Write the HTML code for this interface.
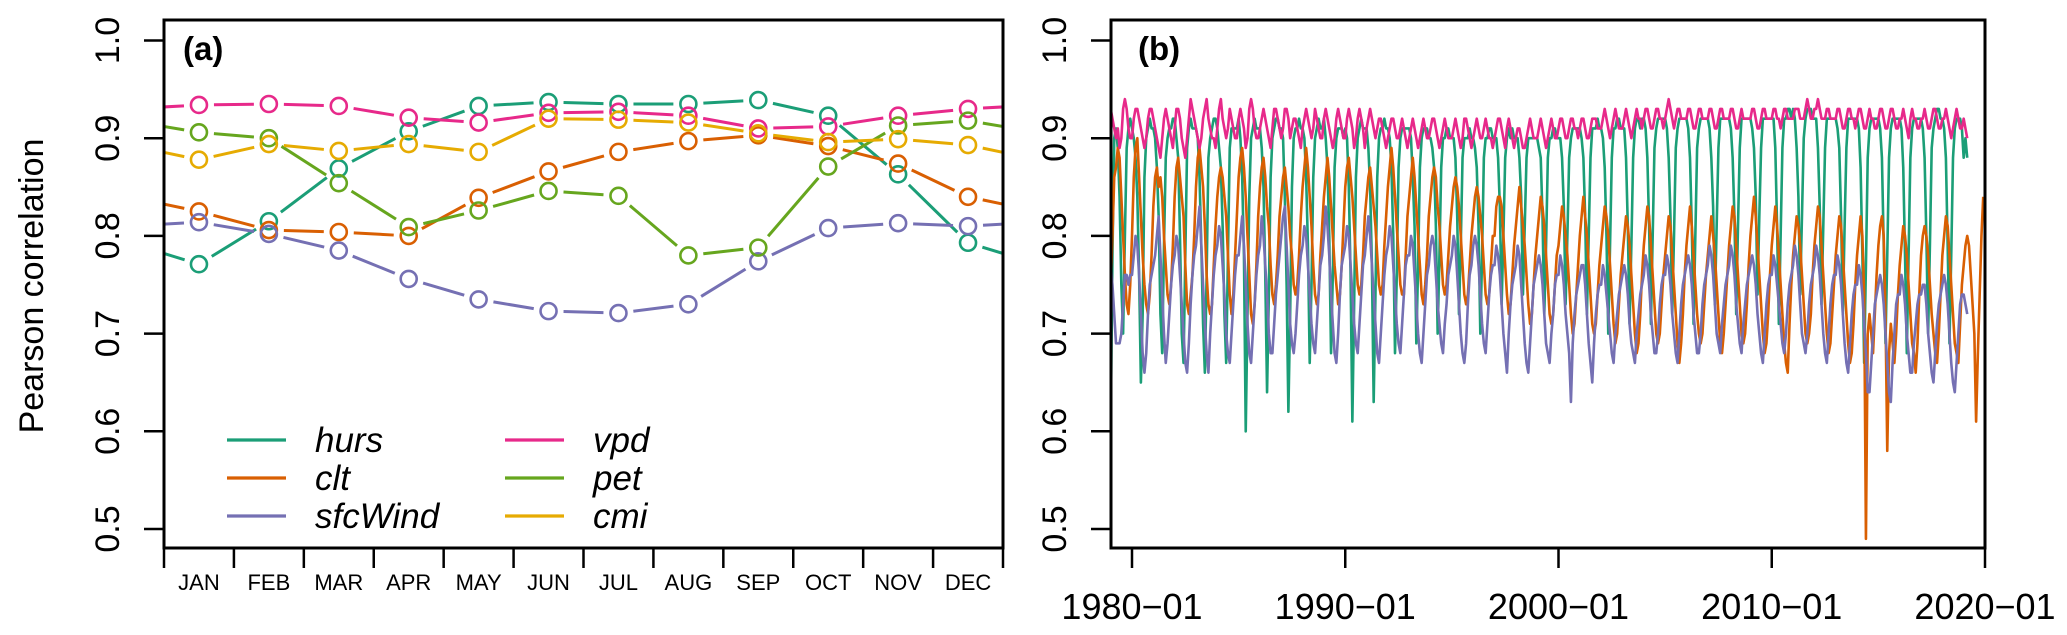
<!DOCTYPE html>
<html><head><meta charset="utf-8"><style>
html,body{margin:0;padding:0;background:#fff;}
svg{display:block;font-family:"Liberation Sans",sans-serif;}
</style></head><body>
<svg id="chart" width="2067" height="635" viewBox="0 0 2067 635" xmlns="http://www.w3.org/2000/svg">
<defs>
<clipPath id="clipA"><rect x="164" y="20" width="839" height="528"/></clipPath>
<clipPath id="clipB"><rect x="1111" y="20" width="874" height="528"/></clipPath>
</defs>
<g id="panelA"></g>
<g id="panelB"></g>
</svg>
<script>
// ---------- Panel (a) data ----------
const months = ["JAN","FEB","MAR","APR","MAY","JUN","JUL","AUG","SEP","OCT","NOV","DEC"];
const hursA = [0.771,0.815,0.869,0.907,0.933,0.937,0.935,0.935,0.939,0.923,0.863,0.793];
const cltA = [0.825,0.806,0.804,0.800,0.839,0.866,0.886,0.897,0.903,0.892,0.874,0.840];
const sfcWindA = [0.814,0.802,0.785,0.756,0.735,0.723,0.721,0.730,0.774,0.808,0.813,0.810];
const vpdA = [0.934,0.935,0.933,0.921,0.916,0.926,0.927,0.923,0.910,0.912,0.923,0.930];
const petA = [0.906,0.900,0.854,0.809,0.826,0.846,0.841,0.780,0.788,0.871,0.913,0.918];
const cmiA = [0.878,0.894,0.887,0.894,0.886,0.920,0.919,0.916,0.905,0.896,0.899,0.893];
const yTicks = [0.5,0.6,0.7,0.8,0.9,1.0];
const yTickLabels = ["0.5","0.6","0.7","0.8","0.9","1.0"];

// ---------- Panel (b) data (monthly, from 1979-01, values in hundredths) ----------
const startYear = 1979;
const xTickYears = [1980,1990,2000,2010,2020];
const xTickLabels = ["1980\u221201","1990\u221201","2000\u221201","2010\u221201","2020\u221201"];
const hursB = [
"60 78 90 91 89 84 75 70 80 89 91 92","91 90 88 84 76 65 72 86 90 91 92 91","91 90 87 82 72 68 79 88 90 91 91 92",
"92 90 88 80 70 67 78 89 91 92 91 91","91 90 86 79 71 66 76 88 90 91 92 92","91 89 87 81 72 67 78 89 91 91 91 91",
"92 90 86 78 60 72 84 90 91 92 91 91","91 89 85 76 64 74 86 90 91 92 92 91","91 90 84 75 62 72 85 90 91 91 92 91",
"91 90 86 79 67 75 86 90 91 92 91 91","92 90 87 80 68 76 87 90 91 91 91 90","91 90 85 76 61 73 86 90 91 92 91 91",
"91 89 85 77 63 74 86 90 91 91 92 91","91 90 87 80 68 76 87 90 91 91 91 91","91 90 86 81 69 77 87 90 91 91 91 90",
"90 89 87 81 70 78 87 90 90 91 91 90","90 90 88 82 72 79 88 90 90 90 91 90","90 89 87 81 70 78 88 90 90 91 91 90",
"90 90 88 83 73 80 88 90 91 90 91 90","90 90 88 84 74 81 88 90 90 90 90 90","90 89 88 82 72 79 88 90 90 91 91 90",
"90 90 88 83 73 80 88 90 91 91 91 91","91 90 88 82 72 80 88 91 91 91 92 91","91 90 87 80 70 79 88 91 91 92 92 91",
"91 91 88 81 71 79 88 91 92 92 91 92","92 91 88 81 71 80 89 91 92 92 92 92","92 91 88 82 72 80 89 91 92 92 92 92",
"92 91 88 81 71 80 89 91 92 92 92 92","92 91 88 83 73 81 89 92 92 92 92 92","92 91 88 82 72 81 89 92 92 92 92 92",
"92 91 89 84 74 82 89 92 92 92 92 92","92 92 89 81 71 80 89 92 92 93 93 92","93 92 89 84 74 82 90 92 93 93 93 92",
"92 92 89 83 73 81 89 92 92 92 92 92","92 91 89 82 72 81 89 92 92 92 92 92","92 91 87 78 67 77 88 91 92 92 92 92",
"92 91 88 79 69 78 88 91 92 92 92 92","92 91 87 78 68 78 88 91 92 92 92 92","92 91 88 80 70 79 89 91 92 93 93 92",
"92 91 88 79 69 78 88 91 92 92 92 91","88 90 88"];
const cltB = [
"75 80 86 87 89 88 84 80 76 73 72 75","80 86 89 90 86 82 78 75 73 72 74 78","83 86 87 85 86 84 80 77 74 73 75 79",
"84 87 88 86 84 82 77 73 72 74 76 80","85 88 89 87 85 81 76 73 72 73 77 81","84 86 87 86 84 82 78 74 72 74 78 82",
"86 88 89 87 84 80 76 72 71 73 77 82","85 87 88 86 83 81 77 74 73 75 78 82","84 86 87 85 83 80 78 75 74 75 78 82",
"85 87 89 87 84 81 77 74 73 74 78 81","84 86 88 86 83 80 77 75 73 74 77 81","85 87 88 86 84 81 78 75 74 75 78 82",
"84 86 87 85 83 81 78 75 74 75 79 82","85 87 89 87 84 81 78 75 74 74 78 82","84 86 88 86 83 80 77 74 73 75 78 82",
"84 86 87 86 83 81 78 75 74 75 78 81","83 85 86 85 83 80 77 74 73 74 77 80","82 84 85 84 82 80 77 74 73 74 77 80",
"80 83 84 84 83 80 77 74 72 73 76 79","81 83 85 83 81 79 76 73 71 72 75 78","80 82 84 83 81 78 75 72 71 72 75 78",
"79 81 83 82 80 78 75 72 70 71 74 77","80 82 84 82 80 77 74 71 70 71 74 77","79 81 83 82 80 77 74 71 69 70 73 76",
"78 80 82 81 79 76 73 70 68 69 72 76","79 81 83 82 79 76 73 70 69 70 73 76","78 80 82 81 78 75 72 69 67 69 72 76",
"79 81 83 81 78 75 72 70 69 70 73 76","78 80 82 80 78 75 72 69 68 70 73 76","79 81 83 82 79 76 73 70 69 70 73 77",
"80 82 84 82 79 76 73 70 68 69 72 76","79 81 83 81 78 75 72 69 67 66 71 75","78 80 82 81 79 76 73 70 69 70 72 76",
"79 81 83 82 79 76 73 70 68 69 72 75","78 80 82 81 78 75 72 69 67 68 71 75","78 80 82 80 74 49 70 72 70 68 72 76",
"79 81 82 80 72 58 68 71 69 67 70 74","77 79 81 80 78 75 72 69 68 66 69 74","78 80 81 80 78 75 72 70 68 67 70 74",
"78 80 82 81 78 75 72 69 68 67 71 75","77 79 80 79 76 73 70 61 68 74 80 84"];
const sfcWindB = [
"77 75 72 69 69 69 70 73 76 76 75 76","76 78 80 79 76 72 68 66 68 72 75 76","77 78 80 82 78 74 70 67 69 72 75 77",
"78 80 79 76 73 70 67 66 69 73 76 78","79 81 83 79 75 71 68 66 70 73 76 78","79 81 80 77 74 70 68 67 70 73 76 78",
"78 80 82 79 75 71 68 67 70 73 76 78","79 82 80 77 74 70 68 68 71 74 76 78","80 82 83 79 75 71 69 68 70 73 76 78",
"79 81 80 77 74 71 69 68 71 74 77 78","80 83 81 78 74 71 68 67 70 74 77 78","79 81 80 77 74 71 69 68 71 74 77 78",
"80 82 80 77 74 71 68 67 70 73 76 78","79 81 80 77 74 71 69 68 71 74 77 78","78 80 79 76 73 70 68 67 70 73 76 77",
"79 80 79 76 73 71 69 68 71 73 76 77","78 80 79 76 73 70 68 67 69 73 76 77","79 80 79 77 74 71 69 68 71 74 76 77",
"77 79 78 76 73 70 68 66 70 73 75 76","77 79 78 75 72 69 67 66 69 72 75 76","77 78 77 75 72 69 68 67 70 72 75 76",
"76 78 77 75 72 70 68 63 69 72 74 75","76 77 77 75 72 69 67 65 69 72 74 75","75 77 76 74 72 70 68 67 70 72 74 75",
"76 77 76 74 71 69 68 67 70 72 74 75","76 78 77 75 72 70 68 68 70 73 75 76","76 78 77 75 72 70 68 67 70 73 75 76",
"77 78 77 75 72 70 68 68 70 73 75 76","77 79 78 76 73 70 69 68 71 73 75 76","77 79 78 76 73 71 69 68 71 73 75 76",
"77 78 77 75 72 70 68 67 70 73 75 76","76 78 77 75 73 71 69 68 70 73 75 76","77 79 78 76 73 70 69 68 70 73 75 76",
"77 79 78 76 73 70 68 67 70 73 75 76","76 78 77 75 72 69 67 66 69 72 74 75","75 77 76 74 71 68 64 64 67 70 73 74",
"75 76 75 73 70 67 64 63 67 70 73 74","74 76 75 73 70 68 66 66 69 71 73 74","74 75 75 73 70 68 66 65 68 71 73 74",
"75 76 75 73 70 67 65 64 67 70 73 74","74 73 72"];
const vpdB = [
"93 92 91 90 91 89 90 93 94 93 91 90","90 92 93 93 92 91 90 89 90 92 93 93","92 91 90 89 88 90 92 93 92 91 90 89",
"91 93 93 92 90 89 88 90 92 94 93 92","91 90 89 90 92 93 94 92 91 90 90 89","91 93 94 92 91 90 91 93 92 91 90 90",
"92 93 92 91 89 90 93 94 93 91 90 90","91 92 93 92 91 90 89 91 93 93 92 91","90 91 93 93 92 90 91 92 92 91 90 89",
"91 92 93 92 91 90 91 93 92 91 90 90","92 93 92 91 90 89 90 92 93 92 91 90","90 92 93 92 91 89 90 92 93 92 91 89",
"91 92 93 92 91 90 91 92 92 91 90 89","90 91 92 92 91 90 90 91 92 91 90 89","90 91 92 91 90 89 90 91 92 91 90 90",
"91 92 92 91 90 89 90 91 92 91 90 90","90 91 92 91 90 89 90 92 92 91 90 89","90 91 92 91 90 90 91 92 91 90 90 89",
"90 91 92 92 91 90 89 91 92 91 90 89","90 91 91 90 89 89 90 91 92 91 90 90","90 91 92 91 90 89 90 91 92 91 90 90",
"91 92 92 91 90 90 91 92 92 91 91 90","91 92 92 91 90 90 91 92 92 92 91 91","91 92 93 92 91 90 91 92 93 92 91 91",
"91 92 93 92 91 90 91 92 93 92 92 91","92 93 93 92 91 91 92 93 93 92 92 91","92 93 94 93 92 91 92 93 93 92 92 92",
"92 93 93 92 91 91 92 93 93 92 92 92","92 93 93 92 91 91 92 93 93 92 92 92","92 93 93 92 91 91 92 93 92 92 92 92",
"92 93 93 92 91 91 92 93 93 92 92 92","92 93 93 92 92 91 92 93 93 92 92 92","92 93 93 93 92 92 92 93 94 93 92 92",
"93 93 94 93 92 92 92 93 93 92 92 92","92 93 93 92 91 91 92 93 93 92 92 91","92 93 93 92 91 91 92 93 92 92 91 91",
"92 93 93 92 91 91 92 93 93 92 91 91","92 92 93 92 91 90 92 93 92 92 91 91","92 92 93 92 91 91 92 93 93 92 91 91",
"92 92 93 92 91 90 91 92 93 92 91 91","92 91 90"];

const NS = "http://www.w3.org/2000/svg";
function mk(tag, attrs, parent){const e=document.createElementNS(NS,tag);for(const k in attrs)e.setAttribute(k,attrs[k]);parent.appendChild(e);return e;}
const C = {hurs:"#1B9E77",clt:"#D95F02",sfcWind:"#7570B3",vpd:"#E7298A",pet:"#66A61E",cmi:"#E6AB02"};

// shared y scale
function yScale(v){return 529 - (v-0.5)*977;}

// ---------- Panel A ----------
const pA = document.getElementById("panelA");
const ax0 = 164, ax1 = 1003, monthW = (ax1-ax0)/12;
function xA(i){return ax0 + monthW*(i+0.5);}
const seriesA = [["hurs",hursA],["clt",cltA],["sfcWind",sfcWindA],["vpd",vpdA],["pet",petA],["cmi",cmiA]];
const gA = mk("g",{"clip-path":"url(#clipA)"},pA);


seriesA.forEach(([name,vals])=>{
  const g = mk("g",{},gA);
  
  
  const n = vals.length;
  for(let i=-1;i<n;i++){
    const v0 = vals[(i+n)%n], v1 = vals[(i+1)%n];
    const x0=xA(i),y0=yScale(v0),x1=xA(i+1),y1=yScale(v1);
    const dx=x1-x0,dy=y1-y0,L=Math.hypot(dx,dy),g2=15;
    if(L<=2*g2) continue;
    const ux=dx/L,uy=dy/L;
    const seg = mk("line",{x1:x0+ux*g2,y1:y0+uy*g2,x2:x1-ux*g2,y2:y1-uy*g2,stroke:C[name],"stroke-width":3},g);
    
    
  }
  for(let i=0;i<n;i++){
    const c = mk("circle",{cx:xA(i),cy:yScale(vals[i]),r:8,fill:"none",stroke:C[name],"stroke-width":2.6},g);
    
    
  }
});
const boxA = mk("rect",{x:ax0,y:20,width:ax1-ax0,height:528,fill:"none",stroke:"#000","stroke-width":3},pA);


yTicks.forEach((t,i)=>{
  const y=yScale(t);
  const tk = mk("line",{x1:ax0-20,y1:y,x2:ax0,y2:y,stroke:"#000","stroke-width":2.5},pA);
  
  
  const tx = mk("text",{x:0,y:0,transform:`translate(119,${y}) rotate(-90)`,"text-anchor":"middle","font-size":34},pA);
  tx.textContent = yTickLabels[i];
  
  
});
for(let i=0;i<=12;i++){
  const x=ax0+monthW*i;
  const tk = mk("line",{x1:x,y1:548,x2:x,y2:568,stroke:"#000","stroke-width":2.5},pA);
  
  
}
months.forEach((m,i)=>{
  const tx = mk("text",{x:xA(i),y:590,"text-anchor":"middle","font-size":22},pA);
  tx.textContent=m;
  
  
});
const yTitle = mk("text",{x:0,y:0,transform:"translate(43,286) rotate(-90)","text-anchor":"middle","font-size":34},pA);
yTitle.textContent="Pearson correlation";


const lblA = mk("text",{x:183,y:60,"font-size":33,"font-weight":"bold"},pA);
lblA.textContent="(a)";


// legend
const legend = mk("g",{},pA);


const legItems=[["hurs",227,440],["clt",227,478],["sfcWind",227,516],["vpd",505,440],["pet",505,478],["cmi",505,516]];
legItems.forEach(([name,x,y])=>{
  const ln = mk("line",{x1:x,y1:y,x2:x+59,y2:y,stroke:C[name],"stroke-width":3.2},legend);
  
  
  const t = mk("text",{x:x+88,y:y+12,"font-size":35,"font-style":"italic"},legend);
  t.textContent=name;
  
  
});

// ---------- Panel B ----------
const pB = document.getElementById("panelB");
const bx0=1111, bx1=1985;
function xB(t){return 1132 + (t-1980)*(853/40);}
function parse(arr){const out=[];arr.forEach(s=>s.trim().split(/\s+/).forEach(v=>out.push(+v/100)));return out;}
const seriesB=[["hurs",parse(hursB)],["clt",parse(cltB)],["sfcWind",parse(sfcWindB)],["vpd",parse(vpdB)]];
const gB = mk("g",{"clip-path":"url(#clipB)"},pB);


seriesB.forEach(([name,vals])=>{
  const d = vals.map((v,i)=>(i?"L":"M")+xB(startYear+i/12).toFixed(2)+","+yScale(v).toFixed(2)).join("");
  const p = mk("path",{d:d,fill:"none",stroke:C[name],"stroke-width":2.6,"stroke-linejoin":"round"},gB);
  
  
});
const boxB = mk("rect",{x:bx0,y:20,width:bx1-bx0,height:528,fill:"none",stroke:"#000","stroke-width":3},pB);


yTicks.forEach((t,i)=>{
  const y=yScale(t);
  const tk = mk("line",{x1:bx0-20,y1:y,x2:bx0,y2:y,stroke:"#000","stroke-width":2.5},pB);
  
  
  const tx = mk("text",{x:0,y:0,transform:`translate(1066,${y}) rotate(-90)`,"text-anchor":"middle","font-size":34},pB);
  tx.textContent = yTickLabels[i];
  
  
});
xTickYears.forEach((yr,i)=>{
  const x=xB(yr);
  const tk = mk("line",{x1:x,y1:548,x2:x,y2:568,stroke:"#000","stroke-width":2.5},pB);
  
  
  const tx = mk("text",{x:x,y:619,"text-anchor":"middle","font-size":36},pB);
  tx.textContent=xTickLabels[i];
  
  
});
const lblB = mk("text",{x:1138,y:60,"font-size":33,"font-weight":"bold"},pB);
lblB.textContent="(b)";


</script>
</body></html>
